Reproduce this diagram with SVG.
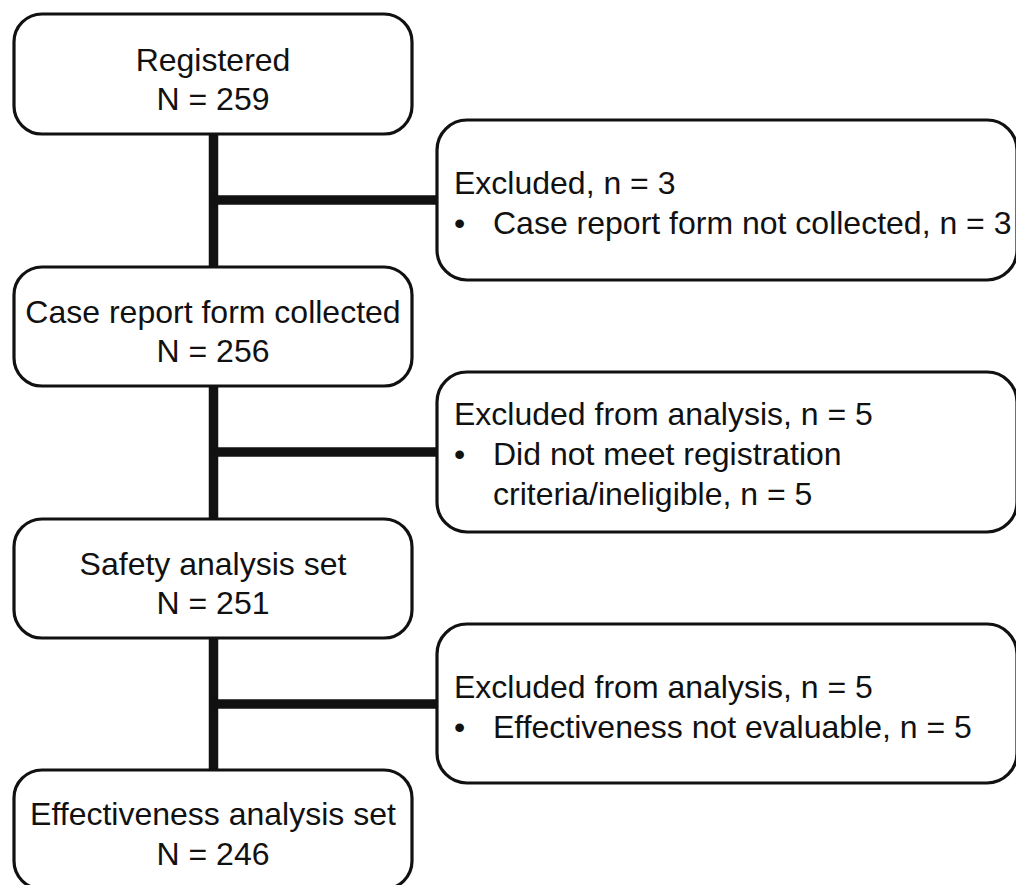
<svg xmlns="http://www.w3.org/2000/svg" width="1016" height="885" viewBox="0 0 1016 885">
<style>
.box{fill:#fff;stroke:#111;stroke-width:3.2}
.conn{stroke:#111;stroke-width:9.5;fill:none}
text{font-family:"Liberation Sans",Arial,sans-serif;font-size:32px;fill:#111}
.c{text-anchor:middle}
</style>
<rect width="1016" height="885" fill="#fff"/>
<g id="connectors">
<line class="conn" x1="213.5" y1="134" x2="213.5" y2="268"/>
<line class="conn" x1="213.5" y1="386" x2="213.5" y2="519"/>
<line class="conn" x1="213.5" y1="638" x2="213.5" y2="771"/>
<line class="conn" x1="213.5" y1="200" x2="437" y2="200"/>
<line class="conn" x1="213.5" y1="452" x2="437" y2="452"/>
<line class="conn" x1="213.5" y1="704" x2="437" y2="704"/>
</g>
<g id="registered">
<rect class="box" x="14" y="14" width="398" height="120" rx="28"/>
<text class="c" x="213" y="71">Registered</text>
<text class="c" x="213" y="110">N = 259</text>
</g>
<g id="crf-collected">
<rect class="box" x="14" y="267" width="398" height="119" rx="28"/>
<text class="c" x="213" y="323">Case report form collected</text>
<text class="c" x="213" y="362">N = 256</text>
</g>
<g id="safety">
<rect class="box" x="14" y="519" width="398" height="119" rx="28"/>
<text class="c" x="213" y="575">Safety analysis set</text>
<text class="c" x="213" y="614">N = 251</text>
</g>
<g id="effectiveness">
<rect class="box" x="14" y="770" width="398" height="119" rx="28"/>
<text class="c" x="213" y="825">Effectiveness analysis set</text>
<text class="c" x="213" y="865">N = 246</text>
</g>
<g id="excluded1">
<rect class="box" x="437" y="120" width="580" height="160" rx="30"/>
<text x="454" y="194">Excluded, n = 3</text>
<text x="454" y="234">•</text>
<text x="493" y="234">Case report form not collected, n = 3</text>
</g>
<g id="excluded2">
<rect class="box" x="437" y="372" width="580" height="160" rx="30"/>
<text x="454" y="425">Excluded from analysis, n = 5</text>
<text x="454" y="465">•</text>
<text x="493" y="465">Did not meet registration</text>
<text x="493" y="505">criteria/ineligible, n = 5</text>
</g>
<g id="excluded3">
<rect class="box" x="437" y="624" width="580" height="159" rx="30"/>
<text x="454" y="698">Excluded from analysis, n = 5</text>
<text x="454" y="738">•</text>
<text x="493" y="738">Effectiveness not evaluable, n = 5</text>
</g>
</svg>
